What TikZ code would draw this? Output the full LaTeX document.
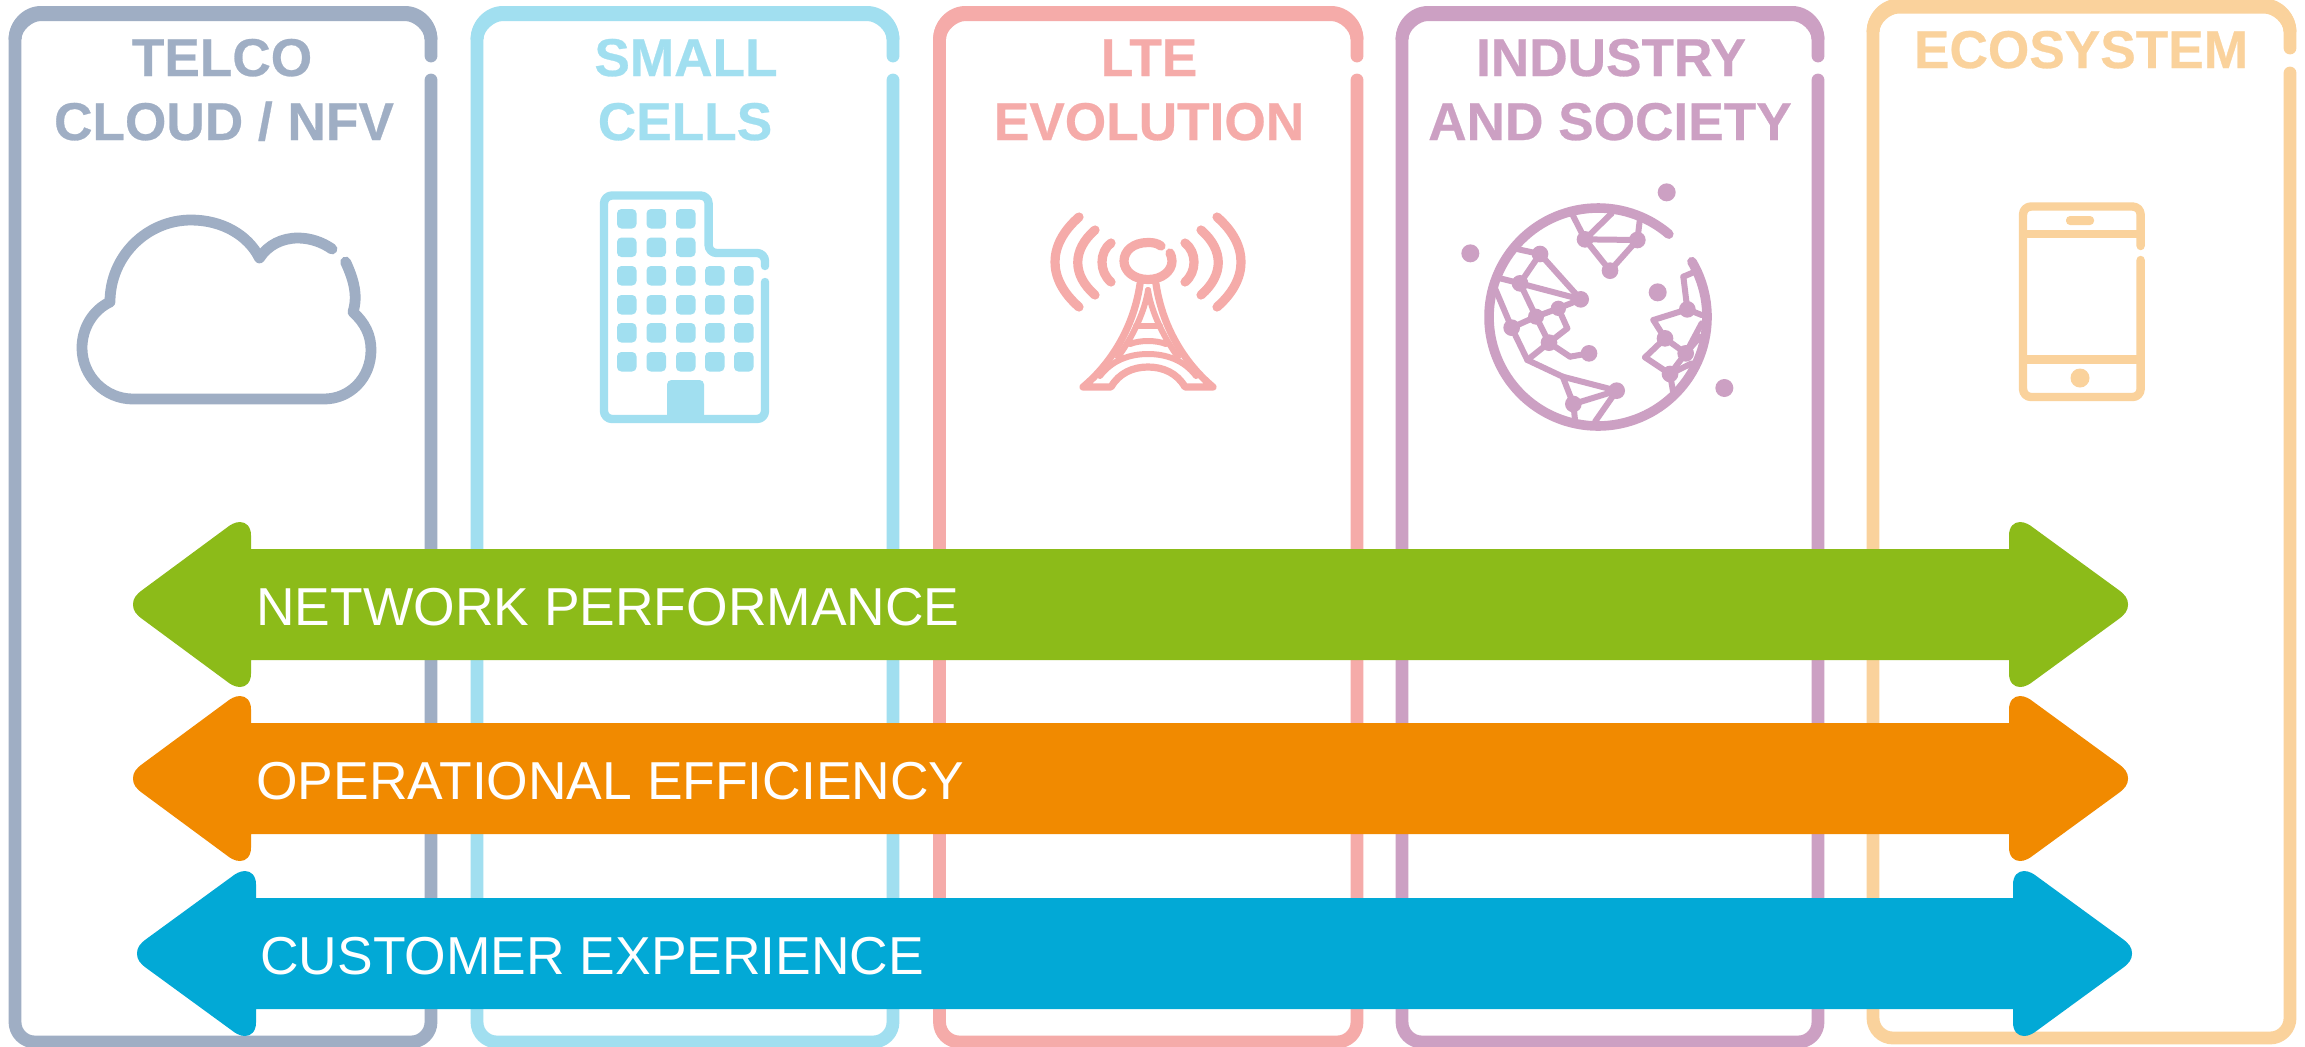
\documentclass[tikz,border=0pt]{standalone}
\usepackage{fontspec}
\setmainfont{Liberation Sans}
\newfontfamily\headfont[Extension=.ttf,UprightFont=LiberationSans-Bold,FakeBold=0.5]{LiberationSans-Bold}
\definecolor{cgray}{HTML}{9FAEC4}
\definecolor{ccyan}{HTML}{A1DFF0}
\definecolor{cpink}{HTML}{F5ABA9}
\definecolor{cpurp}{HTML}{CCA0C3}
\definecolor{cpeach}{HTML}{FAD29C}
\definecolor{cgreen}{HTML}{8CBB19}
\definecolor{corange}{HTML}{F18A00}
\definecolor{cblue}{HTML}{02A9D6}
\tikzset{
  panelline/.style={line width=6.4pt,line cap=round,line join=round},
  headtext/.style={font=\fontsize{26.6}{27}\headfont,inner sep=0pt,anchor=base},
  bandtext/.style={font=\fontsize{26.7}{27}\selectfont,text=white,inner sep=0pt,anchor=base west},
  icon/.style={line cap=round,line join=round,line width=4.8pt},
  globeedge/.style={line width=3pt,line cap=round,line join=round,cpurp},
}
% x1 x2 ytop ybottom gaptop gapbottom colour
\newcommand{\panelbox}[7]{%
  \draw[panelline,#7] (#2,#5) [rounded corners=13pt] -- (#2,#3) -- (#1,#3) [rounded corners=10pt] -- (#1,#4) -- (#2,#4) -- (#2,#6);
  \fill[#7] ({#1-6.4},{#3+26}) .. controls ({#1-6.4},{#3+8}) and ({#1+8},{#3-7.5}) .. ({#1+26},{#3-7.5})
    -- ({#2-26},{#3-7.5}) .. controls ({#2-8},{#3-7.5}) and ({#2+6.4},{#3+8}) .. ({#2+6.4},{#3+26})
    -- ({#2-6.4},{#3+26}) .. controls ({#2-6.4},{#3+17}) and ({#2-17},{#3+7.5}) .. ({#2-26},{#3+7.5})
    -- ({#1+26},{#3+7.5}) .. controls ({#1+17},{#3+7.5}) and ({#1+6.4},{#3+17}) .. ({#1+6.4},{#3+26}) -- cycle;}
% cy tipL baseL baseR tipR colour
\newcommand{\twoway}[6]{%
  \begin{scope}[shift={(0,#1)}]
  \fill[#6] (#3,-55.5) -- (#3,-69)
    .. controls (#3,-78) and ({#3-5},-82.5) .. ({#3-11},-82.5)
    .. controls ({#3-16},-82.5) and ({#3-21},-79.5) .. ({#3-24},-77)
    -- ({#2+10},-15) .. controls ({#2+3},-10) and (#2,-6) .. (#2,0)
    .. controls (#2,6) and ({#2+3},10) .. ({#2+10},15)
    -- ({#3-24},77) .. controls ({#3-21},79.5) and ({#3-16},82.5) .. ({#3-11},82.5)
    .. controls ({#3-5},82.5) and (#3,78) .. (#3,69)
    -- (#3,55.5) -- (#4,55.5) -- (#4,69)
    .. controls (#4,78) and ({#4+5},82.5) .. ({#4+11},82.5)
    .. controls ({#4+16},82.5) and ({#4+21},79.5) .. ({#4+24},77)
    -- ({#5-10},15) .. controls ({#5-3},10) and (#5,6) .. (#5,0)
    .. controls (#5,-6) and ({#5-3},-10) .. ({#5-10},-15)
    -- ({#4+24},-77) .. controls ({#4+21},-79.5) and ({#4+16},-82.5) .. ({#4+11},-82.5)
    .. controls ({#4+5},-82.5) and (#4,-78) .. (#4,-69)
    -- (#4,-55.5) -- cycle;
  \end{scope}}
\begin{document}
\begin{tikzpicture}[x=0.5pt,y=-0.5pt]
\useasboundingbox (0,0) rectangle (2305,1046);
\clip (0,0) rectangle (2305,1046);
\fill[white] (0,0) rectangle (2305,1046);

% panels
\panelbox{15}{431}{13.5}{1042}{56}{80}{cgray}
\panelbox{477}{893}{13.5}{1042}{56}{80}{ccyan}
\panelbox{939.5}{1357}{13.5}{1042}{56}{80}{cpink}
\panelbox{1402}{1818}{13.5}{1042}{56}{80}{cpurp}
\panelbox{1873}{2290}{6}{1038}{48}{73}{cpeach}

% headers
\node[headtext,text=cgray] (h1a) at (222,76) {TELCO};
\node[headtext,text=cgray] (h1b) at (224,140) {CLOUD / NFV};
\node[headtext,text=ccyan] (h2a) at (686,76) {SMALL};
\node[headtext,text=ccyan] (h2b) at (685,140) {CELLS};
\node[headtext,text=cpink] (h3a) at (1149,76) {LTE};
\node[headtext,text=cpink] (h3b) at (1149,140) {EVOLUTION};
\node[headtext,text=cpurp] (h4a) at (1611,76) {INDUSTRY};
\node[headtext,text=cpurp] (h4b) at (1610,140) {AND SOCIETY};
\node[headtext,text=cpeach] (h5) at (2081,68) {ECOSYSTEM};

% cloud
\draw[icon,line width=5.4pt,cgray] (345.6,262) .. controls (354,280) and (358,296) .. (353,312)
  .. controls (365,323) and (371,335) .. (371,350)
  .. controls (371,378) and (350,399) .. (324,399) -- (133,399)
  .. controls (105,399) and (82,376) .. (82,348)
  .. controls (82,328) and (93,310) .. (110,302)
  .. controls (110,256) and (147,220) .. (191,220)
  .. controls (222,220) and (248,235) .. (259.5,258)
  .. controls (268,245) and (282,238) .. (298,238)
  .. controls (310,238) and (322,242) .. (332,249);

% building
\draw[icon,line width=4.2pt,ccyan] (765,266) [rounded corners=4pt] -- (765,253) -- (708.6,253) -- (708.6,195.5) -- (604,195.5) -- (604,419) -- (765,419) -- (765,282);
\foreach \wy in {209,237.5,266,295,323,352}{
  \foreach \wx in {617,646.5,676}{
    \fill[ccyan,rounded corners=2.2pt] (\wx,\wy) rectangle ++(19.5,19.5);}}
\foreach \wy in {266,295,323,352}{
  \foreach \wx in {705,734}{
    \fill[ccyan,rounded corners=2.2pt] (\wx,\wy) rectangle ++(19.5,19.5);}}
\fill[ccyan,rounded corners=2.2pt] (667,419) -- (667,380) -- (704,380) -- (704,419) -- cycle;

% tower
\begin{scope}[cpink]
\draw[icon,line width=4.6pt] (1161,246) .. controls (1157,243) and (1153,242.5) .. (1148,242.5)
  .. controls (1133,242.5) and (1124,251) .. (1124,261)
  .. controls (1124,271) and (1134,279.5) .. (1148,279.5)
  .. controls (1162,279.5) and (1172,271) .. (1172,261)
  .. controls (1172,258) and (1171,255) .. (1170,253);
\foreach \sgn/\ox in {1/0,-1/2296}{
  \begin{scope}[shift={(\ox,0)},xscale=\sgn]
  \draw[icon,line width=4.6pt] (1111,243) .. controls (1099,252) and (1099,272) .. (1111,282);
  \draw[icon,line width=4.6pt] (1095,230) .. controls (1072,250) and (1072,275) .. (1095,295);
  \draw[icon,line width=4.6pt] (1079,217) .. controls (1047,245) and (1047,279) .. (1079,307);
  \end{scope}}
\draw[icon,line width=3.6pt] (1140,284) .. controls (1134,325) and (1113,362) .. (1083,387) -- (1111,387)
  .. controls (1119,373) and (1133,367) .. (1148,367)
  .. controls (1163,367) and (1177,373) .. (1185,387) -- (1213,387)
  .. controls (1183,362) and (1162,325) .. (1156,284);
\draw[icon,line width=3pt] (1148,290) .. controls (1145,310) and (1134,335) .. (1118,357);
\draw[icon,line width=3pt] (1148,290) .. controls (1151,310) and (1162,335) .. (1178,357);
\draw[icon,line width=3pt] (1136,326) -- (1160,326);
\draw[icon,line width=3pt] (1130,344) .. controls (1140,340) and (1156,340) .. (1166,344);
\draw[icon,line width=3pt] (1100,376) .. controls (1112,360) and (1130,354) .. (1148,354)
  .. controls (1166,354) and (1184,360) .. (1196,376);
\end{scope}

% globe
\draw[icon,cpurp] plot[domain=49.5:390.5,samples=120] ({1598+109*cos(\x)},{317-109*sin(\x)});
\begin{scope}[shift={(1440,180)},scale=1/3]
\foreach \px/\py/\pr/\pn in {680/37/27/d1,91/220/27/d2,653/337/27/d3,853/624/27/d4,
  435/178/25/A,592/180/25/B,510/272/25/C,300/222/25/D,240/310/25/E,422/358/25/F,355/385/23/G,288/410/24/H,215/443/25/I,327/488/25/J,447/520/25/K,530/632/25/L,400/672/25/M,742/388/25/N,675/475/25/O,737/520/25/P,690/582/25/Q}{
  \coordinate (\pn) at (\px,\py);
  \fill[cpurp] (\px,\py) circle [radius=\pr];}
\coordinate (r1) at (382,445); \coordinate (r2) at (262,540); \coordinate (r3) at (368,590);
\coordinate (r4) at (390,530); \coordinate (r5) at (730,290); \coordinate (r6) at (640,420);
\coordinate (r7) at (615,532);
\foreach \ea/\eb in {A/B,A/C,B/C,D/E,D/F,E/F,E/H,F/G,G/H,H/I,H/J,G/r1,r1/J,I/r2,r2/J,r2/r3,r3/L,r3/M,M/L,J/r4,r4/K,N/r5,N/r6,r6/O,O/P,O/r7,r7/Q,P/Q}{
  \draw[globeedge] (\ea) -- (\eb);}
\draw[globeedge] (A) -- (398,105);
\draw[globeedge] (A) -- (515,100);
\draw[globeedge] (B) -- (600,115);
\draw[globeedge] (D) -- (235,208);
\draw[globeedge] (E) -- (180,295);
\draw[globeedge] (I) -- (165,325);
\draw[globeedge] (L) -- (465,725);
\draw[globeedge] (M) -- (405,720);
\draw[globeedge] (r5) -- (765,275);
\draw[globeedge] (N) -- (785,405);
\draw[globeedge] (P) -- (785,430);
\draw[globeedge] (P) -- (780,470);
\draw[globeedge] (Q) -- (700,640);
\draw[globeedge] (Q) -- (755,550);
\end{scope}

% phone
\draw[icon,cpeach,line width=4.2pt] (2140.6,246) [rounded corners=4pt] -- (2140.6,206.5) -- (2023,206.5) -- (2023,397) -- (2140.6,397) -- (2140.6,260);
\draw[icon,cpeach,line width=4.2pt,line cap=butt] (2023,234) -- (2140.6,234);
\draw[icon,cpeach,line width=4.2pt,line cap=butt] (2023,359.5) -- (2140.6,359.5);
\fill[cpeach,rounded corners=2pt] (2066,216) rectangle (2094,225);
\fill[cpeach] (2080,378) circle [radius=9.5];

% arrows
\twoway{604.5}{133}{251}{2009}{2128}{cgreen}
\twoway{778.5}{133}{251}{2009}{2128}{corange}
\twoway{953.5}{137}{256}{2013}{2132}{cblue}
\node[bandtext] (t1) at (256,625) {NETWORK PERFORMANCE};
\node[bandtext] (t2) at (256,799) {OPERATIONAL EFFICIENCY};
\node[bandtext] (t3) at (260,974) {CUSTOMER EXPERIENCE};
\end{tikzpicture}
\end{document}
